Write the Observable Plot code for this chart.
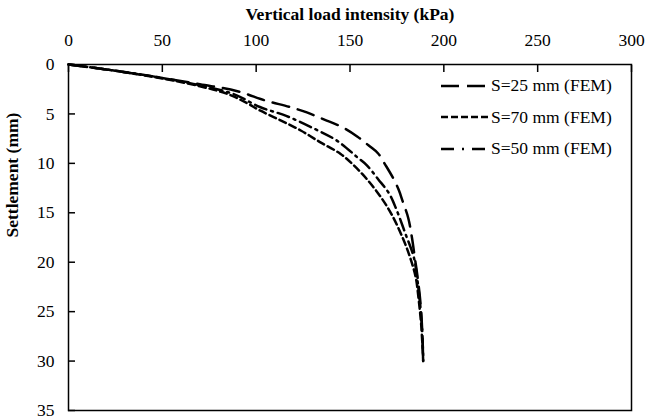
<!DOCTYPE html>
<html>
<head>
<meta charset="utf-8">
<script src="https://cdn.jsdelivr.net/npm/d3@7"></script>
<script src="https://cdn.jsdelivr.net/npm/@observablehq/plot@0.6"></script>
<style>
  html, body { margin: 0; padding: 0; background: #fff; }
  #wrap { position: relative; width: 656px; height: 417px; font-family: "Liberation Serif", "Times New Roman", serif; }
  #legend { position: absolute; left: 440px; top: 70px; font-size: 17.5px; color: #000; }
  #legend .row { display: flex; align-items: center; height: 31.5px; }
  #legend svg { margin-right: 1px; }
</style>
</head>
<body>
<div id="wrap"></div>
<script>
// Data: load (kPa) vs settlement (mm)
const s25Load = [0, 20, 45, 70, 90, 105, 118, 127, 136, 146, 154, 160, 165, 169, 173, 176, 178, 181, 183, 184.5, 186, 187.5, 188.5, 189];
const s25Sett = [0, 0.5, 1.2, 2.0, 2.7, 3.65, 4.3, 4.85, 5.55, 6.35, 7.3, 8.2, 9.0, 10.2, 11.5, 12.7, 13.8, 15.5, 17.5, 19.5, 21.5, 24, 27, 30];

const s70Load = [0, 20, 45, 70, 85, 95, 102, 113, 124, 134, 145, 152, 159, 166, 172, 178, 182, 185, 186.5, 188, 189];
const s70Sett = [0, 0.5, 1.25, 2.2, 3.0, 3.9, 4.65, 5.65, 6.7, 7.85, 9.05, 10.2, 11.6, 13.3, 15.1, 17.5, 19.5, 21.5, 23.6, 26.5, 30];

const s50Load = [0, 20, 45, 70, 88, 102, 116, 131, 143, 154, 159, 165, 171, 175, 179.5, 184, 186, 187.5, 188.5, 189];
const s50Sett = [0, 0.5, 1.2, 2.1, 3.0, 4.3, 5.2, 6.5, 7.7, 9.4, 10.2, 11.6, 13.1, 14.8, 17.1, 19.5, 21.9, 24.5, 27, 30];

const seriesNames = ["S=25 mm (FEM)", "S=70 mm (FEM)", "S=50 mm (FEM)"];
const dashes = ["17,9", "7,4", "12,5,2,5"];
const legendDashes = ["18,8", "7,3", "13,8,2,8"];
const xTicks = [0, 50, 100, 150, 200, 250, 300];
const yTicks = [0, 5, 10, 15, 20, 25, 30, 35];
const xTitle = "Vertical load intensity (kPa)";
const yTitle = "Settlement (mm)";

const toRows = (xs, ys) => xs.map((x, i) => ({load: x, sett: ys[i]}));
const series = [toRows(s25Load, s25Sett), toRows(s70Load, s70Sett), toRows(s50Load, s50Sett)];

const W = 656, H = 417, mL = 68, mR = 25, mT = 64, mB = 7;
const tickLen = 7;
const fs = 17.5;

const chart = Plot.plot({
  width: W,
  height: H,
  marginLeft: mL,
  marginRight: mR,
  marginTop: mT,
  marginBottom: mB,
  style: {fontFamily: "Liberation Serif", fontSize: fs + "px", color: "#000", background: "#fff"},
  x: {domain: [0, 300]},
  y: {domain: [0, 35], reverse: true},
  marks: [
    // tick labels
    Plot.axisX(xTicks, {anchor: "top", tickSize: 0, tickPadding: 19, label: null, fontSize: fs}),
    Plot.axisY(yTicks, {anchor: "left", tickSize: 0, tickPadding: 14, label: null, fontSize: fs}),
    // inward tick marks
    Plot.axisX(xTicks, {anchor: "top", tickSize: tickLen, dy: tickLen, tickFormat: () => "", label: null, stroke: "#000", strokeWidth: 1.5}),
    Plot.axisY(yTicks, {anchor: "left", tickSize: tickLen, dx: tickLen, tickFormat: () => "", label: null, stroke: "#000", strokeWidth: 1.5}),
    Plot.frame({stroke: "#000", strokeWidth: 1.5}),
    ...series.map((d, i) => Plot.line(d, {x: "load", y: "sett", stroke: "#000", strokeWidth: 2.5, strokeDasharray: dashes[i], curve: "catmull-rom"})),
    Plot.text([xTitle], {frameAnchor: "top", dy: -57, fontWeight: "bold", fontSize: fs}),
    Plot.text([yTitle], {frameAnchor: "left", dx: -56, rotate: -90, fontWeight: "bold", fontSize: fs})
  ]
});
const wrap = document.getElementById("wrap");
wrap.appendChild(chart);

// legend inside the plot area
const leg = document.createElement("div");
leg.id = "legend";
seriesNames.forEach((name, i) => {
  const row = document.createElement("div");
  row.className = "row";
  row.innerHTML = `<svg width="50" height="10"><line x1="1" y1="5" x2="49" y2="5" stroke="#000" stroke-width="2.5" stroke-dasharray="${legendDashes[i]}"/></svg><span>${name}</span>`;
  leg.appendChild(row);
});
wrap.appendChild(leg);
</script>
</body>
</html>
